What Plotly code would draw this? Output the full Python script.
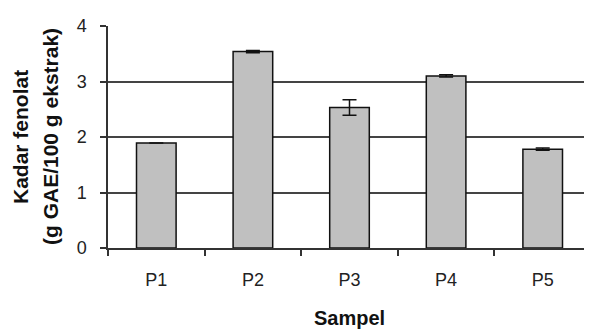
import plotly.graph_objects as go

categories = ["P1", "P2", "P3", "P4", "P5"]
values = [1.89, 3.54, 2.53, 3.10, 1.78]
errors = [0.0, 0.02, 0.14, 0.02, 0.02]
y_ticks = [0, 1, 2, 3, 4]

fig = go.Figure()
fig.add_trace(go.Bar(
    x=categories, y=values,
    marker=dict(color="#c0c0c0", line=dict(color="#111111", width=1.5)),
    error_y=dict(type="data", array=errors, visible=True, color="#111111", thickness=1.5, width=7),
    width=0.41,
))

font = "Liberation Sans, Arial, sans-serif"
# the page body has an 8px default margin, so the figure is sized 8px smaller
fig.update_layout(
    width=584, height=321,
    margin=dict(l=100, r=1, t=18, b=81),
    plot_bgcolor="white", paper_bgcolor="white",
    showlegend=False,
    font=dict(family=font, color="#222222", size=18),
    xaxis=dict(
        showline=True, linecolor="#333333", linewidth=1.5,
        ticks="outside", ticklen=6, tickwidth=1.5, tickcolor="#333333",
        tickson="boundaries", showgrid=False,
        tickfont=dict(size=18, family=font, color="#222222"),
        ticklabelstandoff=15,
        title=dict(text="<b>Sampel</b>", font=dict(size=20, family=font, color="#111111"), standoff=22),
        automargin=False,
    ),
    yaxis=dict(
        range=[0, 4], tickvals=y_ticks, showline=True, linecolor="#333333", linewidth=1.5,
        ticks="outside", ticklen=6, tickwidth=1.5, tickcolor="#333333",
        showgrid=True, gridcolor="#444444", gridwidth=1.5, zeroline=False,
        tickfont=dict(size=18, family=font, color="#222222"),
        ticklabelstandoff=10,
        automargin=False,
    ),
    annotations=[
        dict(text="<b>Kadar fenolat</b>", textangle=-90, xref="paper", yref="paper",
             x=0, y=0.5, xanchor="center", yanchor="middle", xshift=-88, showarrow=False,
             font=dict(size=21, family=font, color="#111111")),
        dict(text="<b>(g GAE/100 g ekstrak)</b>", textangle=-90, xref="paper", yref="paper",
             x=0, y=0.5, xanchor="center", yanchor="middle", xshift=-58, showarrow=False,
             font=dict(size=21, family=font, color="#111111")),
    ],
)

fig.write_html("out.html")
